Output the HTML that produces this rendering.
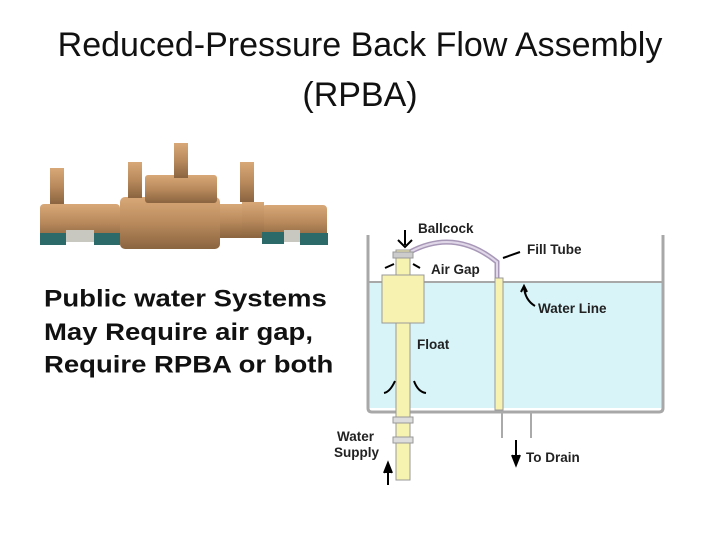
<!DOCTYPE html>
<html><head><style>
body{margin:0;width:720px;height:540px;background:#fff;position:relative;overflow:hidden;font-family:"Liberation Sans",sans-serif}
.t{position:absolute;left:0;width:720px;text-align:center;font-size:34px;color:#111;line-height:50px}
.p{position:absolute;left:44px;top:275px;font-weight:bold;font-size:27.5px;line-height:37.5px;color:#111;transform:scaleY(0.88);transform-origin:0 50%}
</style></head><body>
<div class="t" style="top:20px">Reduced-Pressure Back Flow Assembly</div>
<div class="t" style="top:70px">(RPBA)</div>
<svg style="position:absolute;left:0;top:0" width="720" height="540">
<defs><linearGradient id="b" x1="0" y1="0" x2="0" y2="1"><stop offset="0" stop-color="#d8a878"/><stop offset=".5" stop-color="#b98a5c"/><stop offset="1" stop-color="#8a6440"/></linearGradient></defs>
<g fill="url(#b)">
<rect x="40" y="204" width="80" height="36" rx="4"/>
<rect x="120" y="197" width="100" height="52" rx="5"/>
<rect x="145" y="175" width="72" height="28" rx="3"/>
<rect x="220" y="204" width="25" height="34"/>
<rect x="262" y="205" width="65" height="34" rx="4"/>
<rect x="242" y="202" width="22" height="36"/>
<rect x="50" y="168" width="14" height="36"/>
<rect x="128" y="162" width="14" height="36"/>
<rect x="174" y="143" width="14" height="35"/>
<rect x="240" y="162" width="14" height="40"/>
</g>
<rect x="40" y="233" width="26" height="12" fill="#2c6a6a"/>
<rect x="94" y="233" width="26" height="12" fill="#2c6a6a"/>
<rect x="262" y="232" width="22" height="12" fill="#2c6a6a"/>
<rect x="300" y="233" width="28" height="12" fill="#2c6a6a"/>
<rect x="66" y="230" width="28" height="12" fill="#c8c8c0"/>
<rect x="284" y="230" width="16" height="12" fill="#c8c8c0"/>
<rect x="368" y="282" width="294" height="126" fill="#d8f4f8"/>
<path d="M368 235V408Q368 412 372 412H659Q663 412 663 408V235" fill="none" stroke="#a8a8a8" stroke-width="3"/>
<line x1="368" y1="282" x2="663" y2="282" stroke="#a8a8a8" stroke-width="2"/>
<path d="M410 252Q455 228 497 262V278" fill="none" stroke="#a898b8" stroke-width="5"/>
<path d="M410 252Q455 228 497 262V278" fill="none" stroke="#e0d8e8" stroke-width="2"/>
<rect x="396" y="250" width="14" height="230" fill="#f6f2b0" stroke="#999"/>
<rect x="393" y="252" width="20" height="6" fill="#ccc" stroke="#999"/>
<rect x="393" y="417" width="20" height="6" fill="#ddd" stroke="#999"/>
<rect x="393" y="437" width="20" height="6" fill="#ddd" stroke="#999"/>
<rect x="382" y="275" width="42" height="48" fill="#f8f2b0" stroke="#999"/>
<rect x="495" y="278" width="8" height="132" fill="#f8f2b0" stroke="#999"/>
<line x1="502" y1="412" x2="502" y2="438" stroke="#aaa" stroke-width="2"/>
<line x1="531" y1="412" x2="531" y2="438" stroke="#aaa" stroke-width="2"/>
<g stroke="#000" stroke-width="2" fill="none">
<path d="M405 230V245M398 240l7 7 7-7"/>
<path d="M516 458V440"/><path d="M512 455l4 10 4-10" fill="#000"/>
<path d="M388 485V470"/><path d="M384 473l4-10 4 10" fill="#000"/>
<path d="M535 306Q525 300 524 287M521 292l3-6 3 6"/>
<path d="M395 381Q390 392 384 393M414 381Q418 392 426 393"/>
<path d="M394 264L385 268M413 264L420 268M520 252L503 258"/>
</g>
<g font-weight="bold" font-size="13.5" fill="#222">
<text x="418" y="233">Ballcock</text>
<text x="527" y="254">Fill Tube</text>
<text x="431" y="274">Air Gap</text>
<text x="538" y="313">Water Line</text>
<text x="417" y="349">Float</text>
<text x="337" y="441">Water</text>
<text x="334" y="457">Supply</text>
<text x="526" y="462">To Drain</text>
</g>
</svg>
<div class="p">Public water Systems<br>May Require air gap,<br>Require RPBA or both</div>
</body></html>
